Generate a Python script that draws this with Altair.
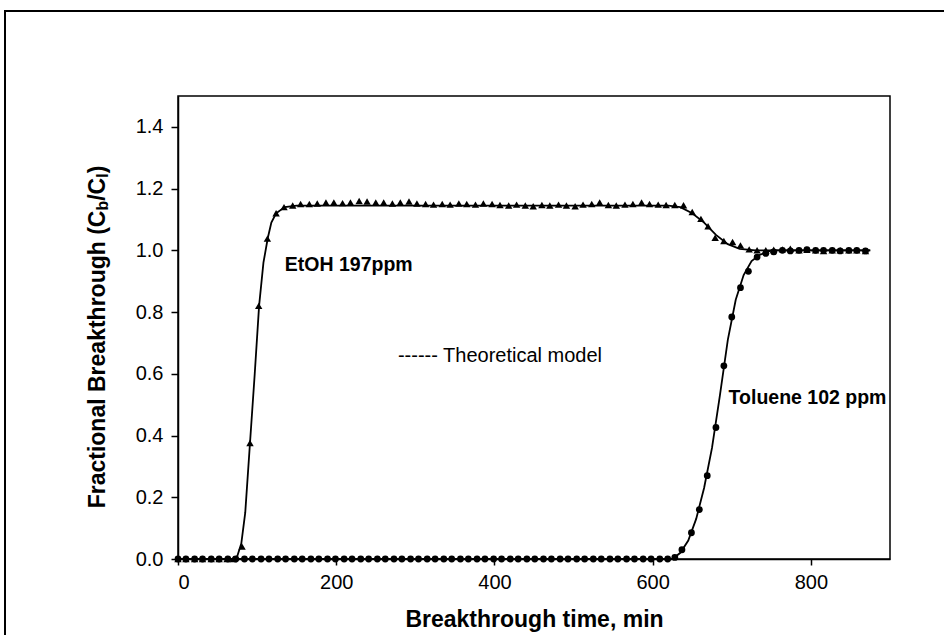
import altair as alt
import pandas as pd

# ---- measured breakthrough data -------------------------------------------
etoh_t = [0, 10, 21, 31, 42, 52, 62, 70, 81, 91, 102, 113, 124, 134, 145, 155,
          166, 176, 187, 197, 208, 218, 229, 239, 250, 260, 271, 281, 292, 302,
          313, 323, 334, 344, 355, 365, 376, 386, 397, 407, 418, 428, 439, 449,
          460, 470, 481, 491, 502, 512, 523, 533, 544, 554, 565, 575, 586, 596,
          607, 617, 628, 639, 650, 661, 670, 679, 690, 701, 711, 722, 732, 743,
          753, 764, 774, 785, 795, 806, 816, 827, 837, 848, 858, 869]
etoh_c = [0, 0, 0, 0, 0, 0, 0, 0, 0.04, 0.376, 0.82, 1.038, 1.12, 1.14, 1.145,
          1.15, 1.15, 1.152, 1.155, 1.155, 1.153, 1.155, 1.16, 1.158, 1.155,
          1.155, 1.152, 1.155, 1.158, 1.152, 1.15, 1.148, 1.15, 1.148, 1.152,
          1.15, 1.148, 1.152, 1.15, 1.147, 1.145, 1.148, 1.145, 1.143, 1.147,
          1.145, 1.148, 1.145, 1.143, 1.148, 1.15, 1.155, 1.147, 1.145, 1.148,
          1.15, 1.155, 1.15, 1.148, 1.147, 1.147, 1.146, 1.124, 1.102, 1.078,
          1.041, 1.03, 1.027, 1.016, 1.003, 1.0, 1.0, 1.002, 1.003, 1.005, 1.0,
          1.002, 1.0, 0.998, 1.0, 1.0, 1.0, 1.0, 0.998]

tol_t = [0, 10, 21, 31, 42, 52, 63, 73, 84, 94, 105, 115, 126, 136, 147, 157,
         168, 178, 189, 199, 210, 220, 231, 241, 252, 262, 273, 283, 294, 304,
         315, 325, 336, 346, 357, 367, 378, 388, 399, 409, 420, 430, 441, 451,
         462, 472, 483, 493, 504, 514, 525, 535, 546, 556, 567, 577, 588, 598,
         609, 619, 628, 637, 649, 659, 669, 680, 690, 700, 711, 721, 732, 743,
         753, 764, 774, 785, 795, 806, 816, 827, 837, 848, 858, 869]
tol_c = [0] * 60 + [0.005, 0.03, 0.085, 0.16, 0.27, 0.426, 0.626, 0.784, 0.879,
                    0.932, 0.978, 0.99, 0.995, 1.0, 0.998, 1.0, 1.002, 1.0,
                    1.0, 1.0, 0.998, 1.0, 1.0, 0.998]

# ---- theoretical model curves ---------------------------------------------
model_etoh_t = [0, 70, 75, 80, 85, 91, 97, 102.5, 108, 113.5, 118, 124, 135,
                150, 620, 635, 650, 665, 680, 695, 710, 730, 875]
model_etoh_c = [0, 0, 0.01, 0.05, 0.15, 0.376, 0.6, 0.82, 0.96, 1.04, 1.09,
                1.12, 1.14, 1.145, 1.145, 1.14, 1.12, 1.09, 1.05, 1.02, 1.005,
                1.0, 1.0]
model_tol_t = [0, 625, 635, 645, 655, 665, 675, 685, 695, 705, 715, 725, 735,
               750, 875]
model_tol_c = [0, 0, 0.02, 0.06, 0.13, 0.23, 0.36, 0.53, 0.71, 0.84, 0.92,
               0.965, 0.985, 1.0, 1.0]

# ---- annotations -----------------------------------------------------------
label_text = ["EtOH 197ppm", "Toluene 102 ppm"]
label_t = [135, 696]
label_c = [0.953, 0.522]
model_note = "------ Theoretical model"
model_note_t, model_note_c = 278, 0.659

x_ticks = [0, 200, 400, 600, 800]
y_ticks = [0.0, 0.2, 0.4, 0.6, 0.8, 1.0, 1.2, 1.4]

FONT = "Liberation Sans"
W, H = 712, 463

etoh = pd.DataFrame({"t": etoh_t, "c": etoh_c})
tol = pd.DataFrame({"t": tol_t, "c": tol_c})
m_etoh = pd.DataFrame({"t": model_etoh_t, "c": model_etoh_c})
m_tol = pd.DataFrame({"t": model_tol_t, "c": model_tol_c})
labels = pd.DataFrame({"txt": label_text, "t": label_t, "c": label_c})
note = pd.DataFrame({"txt": [model_note], "t": [model_note_t], "c": [model_note_c]})

xs = alt.Scale(domain=[0, 900], nice=False, zero=False)
ys = alt.Scale(domain=[0, 1.5], nice=False)

X = alt.X("t:Q", scale=xs,
          axis=alt.Axis(values=x_ticks, format="d", title="Breakthrough time, min",
                        grid=False, tickSize=6, labelPadding=7, titlePadding=16))
Y = alt.Y("c:Q", scale=ys,
          axis=alt.Axis(values=y_ticks, format=".1f", title=None,
                        grid=False, tickSize=7, labelPadding=8))

line_etoh = alt.Chart(m_etoh).mark_line(color="black", strokeWidth=1.8).encode(x=X, y=Y)
line_tol = alt.Chart(m_tol).mark_line(color="black", strokeWidth=1.8).encode(x=X, y=Y)
pts_tol = alt.Chart(tol).mark_point(shape="circle", filled=True, color="black",
                                    size=46, opacity=1).encode(x=X, y=Y)
pts_etoh = alt.Chart(etoh).mark_point(shape="triangle-up", filled=True, color="black",
                                      size=55, opacity=1).encode(x=X, y=Y)

lab = alt.Chart(labels).mark_text(font=FONT, fontSize=19.5, fontWeight="bold",
                                  align="left", baseline="middle", color="black"
                                  ).encode(x="t:Q", y="c:Q", text="txt:N")
nt = alt.Chart(note).mark_text(font=FONT, fontSize=20, align="left",
                               baseline="middle", color="black"
                               ).encode(x="t:Q", y="c:Q", text="txt:N")

# y-axis title with subscripts, built from rotated text pieces
BOLD_W = {" ": 278, "(": 333, ")": 333, "/": 278, "B": 722, "C": 722, "F": 611,
          "a": 556, "b": 611, "c": 556, "e": 556, "g": 611, "h": 611, "i": 278,
          "k": 556, "l": 278, "n": 611, "o": 611, "r": 389, "t": 333, "u": 611}
pieces = [("Fractional Breakthrough (C", 23, 0), ("b", 16, 5), ("/C", 23, 0),
          ("l", 16, 5), (")", 23, 0)]
widths = [sum(BOLD_W[ch] for ch in s) * fs / 1000 for s, fs, _ in pieces]
total = sum(widths)
center = 241
title_layers = []
pos = center + total / 2
for (s, fs, dxs), w in zip(pieces, widths):
    title_layers.append(
        alt.Chart(pd.DataFrame({"s": [s]})).mark_text(
            font=FONT, fontSize=fs, fontWeight="bold", angle=270, align="left",
            baseline="middle", color="black"
        ).encode(x=alt.value(-80 + dxs), y=alt.value(pos), text="s:N")
    )
    pos -= w

frame = alt.Chart(pd.DataFrame({"k": [0]})).mark_rect(
    fillOpacity=0, stroke="black", strokeWidth=2
).encode(x=alt.value(5 - 178), x2=alt.value(952 - 178),
         y=alt.value(11 - 96), y2=alt.value(645 - 96))

chart = alt.layer(frame, line_etoh, line_tol, pts_tol, pts_etoh, lab, nt,
                  *title_layers).properties(
    width=W, height=H,
    autosize=alt.AutoSizeParams(type="none"),
    padding={"left": 178, "top": 96, "right": 54, "bottom": 76},
    background="white",
).configure_view(stroke="black", strokeWidth=1.5).configure_axis(
    domainColor="black", domainWidth=1.5, tickColor="black", tickWidth=1.5,
    labelFont=FONT, labelFontSize=20, labelColor="black",
    titleFont=FONT, titleFontSize=23, titleFontWeight="bold", titleColor="black",
)

chart.save("out.html", embed_options={"renderer": "svg", "actions": False})
